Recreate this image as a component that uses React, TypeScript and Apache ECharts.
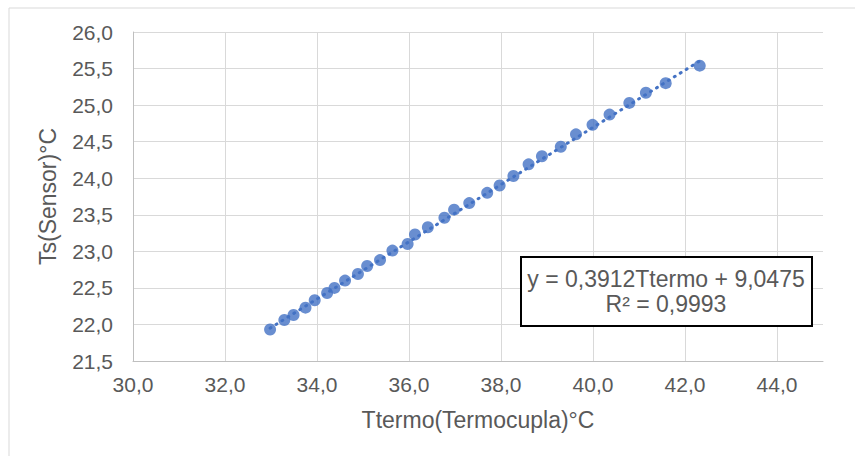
import React, { useEffect, useRef } from "react";
import * as echarts from "echarts";

const ttermo = [
  32.98, 33.29, 33.49, 33.75, 33.95, 34.22, 34.38, 34.61, 34.89, 35.09, 35.37,
  35.64, 35.97, 36.13, 36.41, 36.77, 36.98, 37.31, 37.7, 37.97, 38.27, 38.6,
  38.89, 39.3, 39.63, 39.99, 40.36, 40.79, 41.15, 41.58, 42.32,
];
const tsSensor = [
  21.93, 22.06, 22.13, 22.23, 22.33, 22.43, 22.5, 22.6, 22.69, 22.8, 22.88,
  23.01, 23.1, 23.23, 23.33, 23.46, 23.57, 23.66, 23.8, 23.9, 24.03, 24.19,
  24.3, 24.43, 24.6, 24.73, 24.87, 25.03, 25.17, 25.3, 25.54,
];
const slope = 0.3912;
const intercept = 9.0475;
const equationLines = ["y = 0,3912Ttermo + 9,0475", "R² = 0,9993"];
const xTitle = "Ttermo(Termocupla)°C";
const yTitle = "Ts(Sensor)°C";

const fmt = (v: number) => v.toFixed(1).replace(".", ",");
const FONT = "'Liberation Sans', Arial, sans-serif";

export default function App() {
  const ref = useRef<HTMLDivElement>(null);
  useEffect(() => {
    if (!ref.current) return;
    const chart = echarts.init(ref.current, undefined, { renderer: "svg" });
    const xMin = Math.min(...ttermo);
    const xMax = Math.max(...ttermo);
    chart.setOption({
      animation: false,
      backgroundColor: "#ffffff",
      textStyle: { fontFamily: FONT },
      grid: { left: 133, right: 32, top: 32, bottom: 95 },
      xAxis: {
        type: "value",
        min: 30,
        max: 45,
        interval: 2,
        name: xTitle,
        nameLocation: "middle",
        nameGap: 47,
        nameTextStyle: { fontSize: 23, color: "#595959", fontFamily: FONT },
        axisLine: { show: true, lineStyle: { color: "#bfbfbf", width: 1 } },
        axisTick: { show: false },
        axisLabel: {
          formatter: fmt,
          fontSize: 21,
          color: "#595959",
          margin: 13,
          showMaxLabel: false,
          fontFamily: FONT,
        },
        splitLine: {
          show: true,
          showMinLine: false,
          showMaxLine: false,
          lineStyle: { color: "#d9d9d9", width: 1 },
        },
      },
      yAxis: {
        type: "value",
        min: 21.5,
        max: 26,
        interval: 0.5,
        name: yTitle,
        nameLocation: "middle",
        nameGap: 74,
        nameTextStyle: { fontSize: 23, color: "#595959", fontFamily: FONT },
        axisLine: { show: true, lineStyle: { color: "#bfbfbf", width: 1 } },
        axisTick: { show: false },
        axisLabel: {
          formatter: fmt,
          fontSize: 21,
          color: "#595959",
          margin: 20,
          fontFamily: FONT,
        },
        splitLine: {
          show: true,
          showMinLine: false,
          lineStyle: { color: "#d9d9d9", width: 1 },
        },
      },
      series: [
        {
          type: "line",
          data: [
            [xMin, slope * xMin + intercept],
            [xMax, slope * xMax + intercept],
          ],
          showSymbol: false,
          symbol: "none",
          lineStyle: { color: "#4472C4", width: 3, type: [1, 6], cap: "round" },
          z: 2,
        },
        {
          type: "scatter",
          data: ttermo.map((x, i) => [x, tsSensor[i]]),
          symbol: "circle",
          symbolSize: 12,
          itemStyle: { color: "#4472C4" },
          z: 3,
        },
      ],
      graphic: [
        {
          type: "rect",
          shape: { x: 9, y: 8, width: 900, height: 500 },
          style: { fill: "none", stroke: "#d9d9d9", lineWidth: 1 },
          silent: true,
          z: -1,
        },
        {
          type: "rect",
          shape: { x: 521, y: 257, width: 291, height: 69 },
          style: { fill: "#ffffff", stroke: "#000000", lineWidth: 2 },
          z: 10,
        },
        {
          type: "text",
          x: 666,
          y: 279,
          style: {
            text: equationLines[0],
            fontSize: 23,
            fill: "#595959",
            fontFamily: FONT,
            align: "center",
            verticalAlign: "middle",
          },
          z: 11,
        },
        {
          type: "text",
          x: 666,
          y: 304,
          style: {
            text: equationLines[1],
            fontSize: 23,
            fill: "#595959",
            fontFamily: FONT,
            align: "center",
            verticalAlign: "middle",
          },
          z: 11,
        },
      ],
    });
    return () => chart.dispose();
  }, []);
  return (
    <div
      ref={ref}
      style={{ position: "fixed", left: 0, top: 0, width: 855, height: 456 }}
    />
  );
}
